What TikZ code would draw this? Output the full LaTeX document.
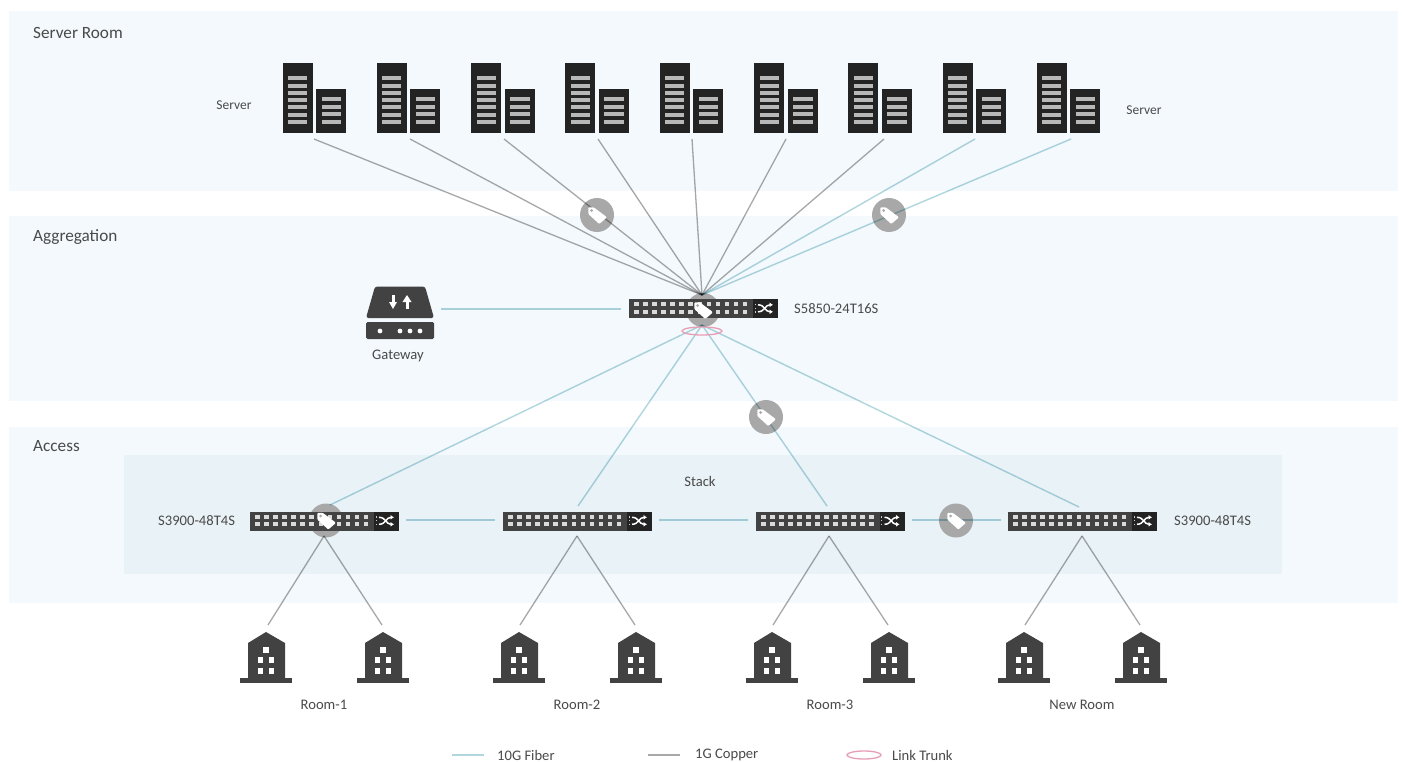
\documentclass[tikz,border=0pt]{standalone}
\usepackage{fontspec}
\setmainfont{Carlito}
\usetikzlibrary{arrows.meta}
\definecolor{panelc}{HTML}{F3F9FC}
\definecolor{stackc}{HTML}{E9F2F6}
\definecolor{darkc}{HTML}{424242}
\definecolor{blackc}{HTML}{232323}
\definecolor{barc}{HTML}{B8B8B8}
\definecolor{portc}{HTML}{DADADA}
\definecolor{tealc}{HTML}{B0D6DE}
\definecolor{grayc}{HTML}{A8A8A8}
\definecolor{pinkc}{HTML}{E79DB4}
\definecolor{tagc}{HTML}{A8A8A8}
\definecolor{txtc}{HTML}{4A4A4A}
\tikzset{
  panel/.style={fill=panelc,draw=none},
  fiber/.style={draw=tealc,line width=1.4pt,blend mode=multiply},
  copper/.style={draw=grayc,line width=1.3pt,blend mode=multiply},
  trunk/.style={draw=pinkc,line width=1.3pt},
  lbl/.style={font=\fontsize{14.6}{17}\selectfont,text=txtc,inner sep=0pt},
  lbll/.style={lbl,anchor=west},
  lblsec/.style={lbll,font=\fontsize{17.2}{20}\selectfont},
  lblsmall/.style={font=\fontsize{13.5}{16}\selectfont,text=txtc,inner sep=0pt},
  pics/rack/.style={code={
    \fill[blackc] (0,0) rectangle (30,70);
    \fill[blackc] (33.5,26.5) rectangle (63.5,70);
    \foreach \y in {15.3,22.7,29.7,37.3,44.3,51.7,59}{\fill[barc] (5.5,\y-2) rectangle (24.5,\y+2);}
    \foreach \y in {36.3,43.7,51.3,58.7}{\fill[barc] (39,\y-2) rectangle (58.5,\y+2);}
  }},
  pics/sw/.style={code={
    \fill[darkc] (0,0) rectangle (149,19);
    \fill[blackc] (124,0) rectangle (149,19);
    \foreach \i in {0,...,12}{
      \fill[portc] (5.3+9.03*\i,3.4) rectangle (10.1+9.03*\i,7.2);
      \fill[portc] (5.3+9.03*\i,10.8) rectangle (10.1+9.03*\i,14.6);
    }
    \foreach \y in {5.5,9.3,13}{\fill[white!80!black] (125.5,\y-.6) rectangle (126.7,\y+.6);}
    \draw[white,line width=1.5pt,-{Latex[length=3.5pt,width=5pt]}] (129,5.8) .. controls (136,5.8) and (136,12.8) .. (144,12.8);
    \draw[white,line width=1.5pt,-{Latex[length=3.5pt,width=5pt]}] (129,12.8) .. controls (136,12.8) and (136,5.8) .. (144,5.8);
  }},
  pics/bld/.style={code={
    \fill[darkc] (-26,46) rectangle (26,51);
    \fill[darkc] (-18,47) -- (-18,11) -- (0,0) -- (19,11) -- (19,47) -- cycle;
    \foreach \p in {(0,18),(-5.5,28),(5.5,28),(-5.5,39),(5.5,39)}{
      \fill[white] \p ++(-2.6,-2.6) rectangle ++(5.2,5.2);
    }
  }},
  pics/tagdisc/.style={code={\fill[tagc] (0,0) circle (17);}},
  pics/tagmark/.style={code={
    \fill[white,rounded corners=1pt] (-8.7,-7.7) -- (-3.3,-7.7) -- (10,2.3) -- (2.3,9) -- (-8.7,-1) -- cycle;
    \fill[tagc] (-5.3,-4.5) circle (1.5);
  }},
}
\begin{document}
\begin{tikzpicture}[x=1pt,y=-1pt]
\useasboundingbox (0,0) rectangle (1402,762);
\fill[white] (0,0) rectangle (1402,762);
% bands
\path[panel] (9,11) rectangle (1398,191);
\path[panel] (9,216) rectangle (1398,401);
\path[panel] (9,427) rectangle (1398,603);
\fill[stackc] (124,455) rectangle (1282,574);
% section labels
\node[lblsec] (secServer) at (33,32.5) {Server Room};
\node[lblsec] (secAgg) at (33,237) {Aggregation};
\node[lblsec] (secAcc) at (33,446) {Access};
\node[lbl] (stacklbl) at (700,481) {Stack};
% anchors
\coordinate (hubup) at (702,295);
\coordinate (hubdown) at (702,325);
\coordinate (gwr) at (441,309);
\coordinate (hubl) at (621,309);
\foreach \i/\x in {1/314,2/410,3/504,4/598,5/692,6/786,7/884,8/975,9/1071}{\coordinate (srv\i) at (\x,139);}
\coordinate (a1up) at (330,505);
\coordinate (a2up) at (578,506);
\coordinate (a3up) at (827,506);
\coordinate (a4up) at (1079,507);
\coordinate (a1r) at (406,520);
\coordinate (a2l) at (495,520);
\coordinate (a2r) at (659,520);
\coordinate (a3l) at (748,520);
\coordinate (a3r) at (912,520);
\coordinate (a4l) at (1001,520);
\foreach \n/\x/\la/\lb in {1/324/268/382,2/577/520/635,3/829/773/888,4/1082/1025/1140}{
  \coordinate (a\n dn) at (\x,536);
  \coordinate (r\n a) at (\la,625);
  \coordinate (r\n b) at (\lb,625);
}
% tag discs under the lines
\foreach \n/\x/\y in {t1/597/215,t2/889/215,t3/703/310,t4/766/417,t5/326/520.5,t6/956/520.5}{
  \coordinate (\n) at (\x,\y);
  \pic at (\n) {tagdisc};
}
% connectors
\foreach \i in {1,...,7}{\draw[copper] (srv\i) -- (hubup);}
\foreach \i in {8,9}{\draw[fiber] (srv\i) -- (hubup);}
\draw[fiber] (gwr) -- (hubl);
\foreach \i in {1,...,4}{\draw[fiber] (a\i up) -- (hubdown);}
\draw[fiber] (a1r) -- (a2l);
\draw[fiber] (a2r) -- (a3l);
\draw[fiber] (a3r) -- (a4l);
\foreach \n in {1,...,4}{
  \draw[copper] (a\n dn) -- (r\n a);
  \draw[copper] (a\n dn) -- (r\n b);
}
% servers
\foreach \i in {0,...,8}{\pic at ({282.5+94.3*\i},63) {rack};}
\node[lblsmall] (srvL) at (234,105) {Server};
\node[lblsmall] (srvR) at (1144,110) {Server};
% gateway
\fill[darkc,rounded corners=2.5pt] (375,286.5) -- (425,286.5) -- (434,318) -- (366,318) -- cycle;
\fill[darkc,rounded corners=1.5pt] (366,322) rectangle (434,339);
\foreach \x in {380,400,410,420}{\fill[white] (\x,331) circle (2.4);}
\fill[white] (391.5,295) rectangle (394.5,303);
\fill[white] (389,302) -- (397,302) -- (393,309) -- cycle;
\fill[white] (405.5,301) rectangle (408.5,309);
\fill[white] (402.5,302) -- (407,295) -- (411.5,302) -- cycle;
\node[lbl] (gwlbl) at (398,356) {Gateway};
% switches
\pic at (629,299) {sw};
\foreach \x in {250,503,755.5,1008}{\pic at (\x,511.5) {sw};}
\draw[trunk] (702,331) ellipse (20 and 4);
\node[lbll] (hublbl) at (794,309) {S5850-24T16S};
\node[lbll] (a1lbl) at (158,521) {S3900-48T4S};
\node[lbll] (a4lbl) at (1174,521) {S3900-48T4S};
% tag marks
\foreach \n in {t1,t2,t3,t4,t5,t6}{\pic at (\n) {tagmark};}
% rooms
\foreach \x in {266,383,519,636,772,889,1024,1141}{\pic at (\x,632) {bld};}
\node[lbl] (room1) at (324,704.5) {Room-1};
\node[lbl] (room2) at (577,704.5) {Room-2};
\node[lbl] (room3) at (830,704.5) {Room-3};
\node[lbl] (room4) at (1082,704.5) {New Room};
% legend
\coordinate (lg1a) at (452,755); \coordinate (lg1b) at (484,755);
\coordinate (lg2a) at (648,755); \coordinate (lg2b) at (680,755);
\draw[fiber] (lg1a) -- (lg1b);
\draw[copper] (lg2a) -- (lg2b);
\draw[trunk] (864,755) ellipse (17 and 4);
\node[lbll] (lg1) at (497,755) {10G Fiber};
\node[lbll] (lg2) at (695,755) {1G Copper};
\node[lbll] (lg3) at (892,755) {Link Trunk};
\end{tikzpicture}
\end{document}
